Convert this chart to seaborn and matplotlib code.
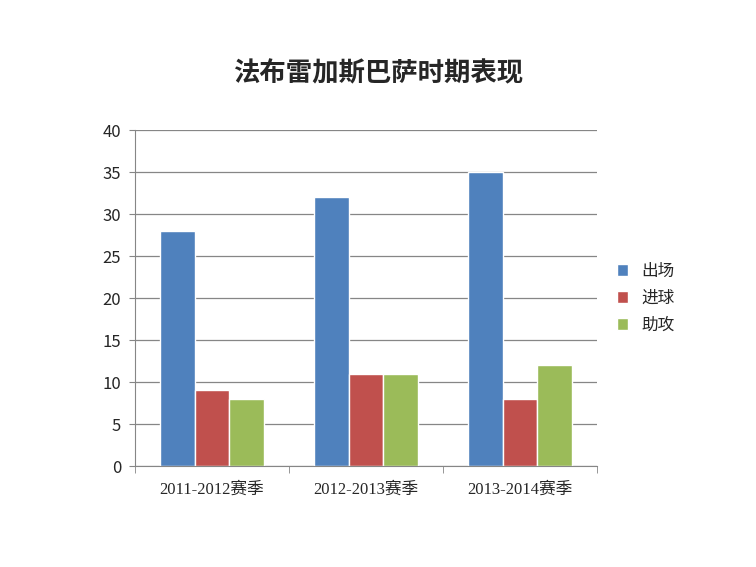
import matplotlib
matplotlib.use("Agg")
import matplotlib.pyplot as plt
import seaborn as sns
import pandas as pd
from matplotlib.ticker import FixedLocator

seasons = ["2011-2012赛季", "2012-2013赛季", "2013-2014赛季"]
series = ["出场", "进球", "助攻"]
apps = [28, 32, 35]
goals = [9, 11, 8]
assists = [8, 11, 12]

rows = []
for i, s in enumerate(seasons):
    for name, vals in zip(series, [apps, goals, assists]):
        rows.append({"season": s, "series": name, "value": vals[i]})
df = pd.DataFrame(rows)

sns.set_style("white")
plt.rcParams['font.family'] = ['Noto Sans CJK SC', 'DejaVu Sans']

fig = plt.figure(figsize=(7.56, 5.67), dpi=100)
ax = fig.add_axes([0.1786, 0.178, 0.611, 0.5927])
sns.barplot(data=df, x="season", y="value", hue="series", palette=["#4F81BD", "#C0504D", "#9BBB59"],
            width=0.67, ax=ax, saturation=1)
ax.set_ylim(0, 40)
ax.set_xlim(-0.5, 2.5)
ax.set_yticks(range(0, 41, 5))
ax.yaxis.grid(True, color="#868686", linewidth=0.9)
ax.set_axisbelow(True)
for s in ["top", "right"]:
    ax.spines[s].set_visible(False)
ax.spines["left"].set_color("#868686")
ax.spines["bottom"].set_color("#868686")
ax.set_xlabel("")
ax.set_ylabel("")
ax.tick_params(axis="y", labelsize=12, left=True, length=4, color="#868686", pad=6)
ax.tick_params(axis="x", labelsize=12, bottom=False, pad=8)
ax.xaxis.set_minor_locator(FixedLocator([-0.5, 0.5, 1.5, 2.5]))
ax.tick_params(axis="x", which="minor", bottom=True, length=5, color="#868686")
for lbl in ax.get_xticklabels():
    lbl.set_family(['Liberation Serif', 'Noto Sans CJK SC'])
leg = ax.legend(loc="center left", bbox_to_anchor=(1.01, 0.5), frameon=False, fontsize=12,
                handlelength=0.7, handleheight=0.7, labelspacing=0.6)
fig.text(0.5, 0.87, "法布雷加斯巴萨时期表现", ha="center", va="center", fontsize=19, fontweight="bold")
fig.savefig("out.png", dpi=100)
